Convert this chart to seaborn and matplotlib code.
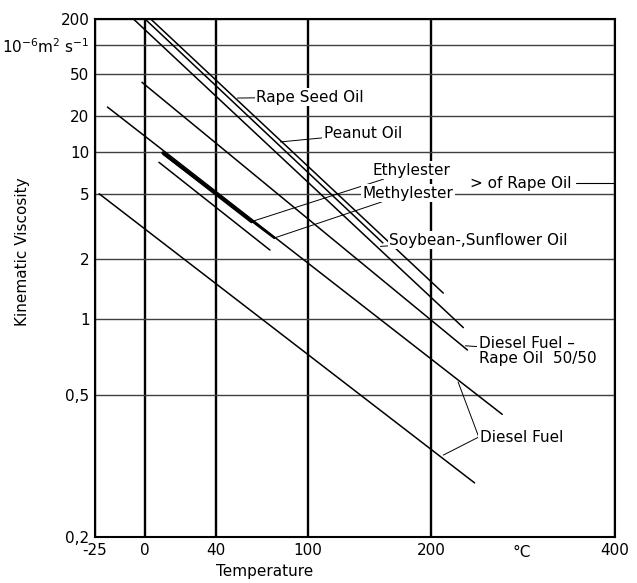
import numpy as np
import pandas as pd
import seaborn as sns
import matplotlib.pyplot as plt

# temperature in degC, viscosity in 10^-6 m2/s (end points of the straight lines)
rape_T = [3, 211]
rape_v = [200, 1.33]
peanut_T = [0, 158]
peanut_v = [200, 2.46]
soy_T = [-6, 230]
soy_v = [200, 0.92]
blend_T = [-1.6, 234]
blend_v = [41, 0.74]
diesel_hi_T = [-19, 269]
diesel_hi_v = [24, 0.43]
diesel_lo_T = [-23, 241]
diesel_lo_v = [5.0, 0.27]
ethyl_T = [9.6, 62]
ethyl_v = [9.9, 3.3]
methyl_T = [10, 77]
methyl_v = [9.7, 2.63]
ester3_T = [7.4, 74]
ester3_v = [8.4, 2.24]

x_ticks = [-25, 0, 40, 100, 200, 400]
x_labels = ['-25', '0', '40', '100', '200', '400']
y_ticks = [200, 100, 50, 20, 10, 5, 2, 1, 0.5, 0.2]
y_labels = ['200', '10$^{-6}$m$^2$ s$^{-1}$', '50', '20', '10', '5', '2', '1', '0,5', '0,2']

K = 1.37


def t_fwd(t):
    t = np.asarray(t, dtype=float)
    return np.log10(np.clip(t + 273.15, 1e-6, None))


def t_inv(u):
    return 10 ** np.asarray(u, dtype=float) - 273.15


def v_fwd(v):
    v = np.clip(np.asarray(v, dtype=float), 0.05, None)
    return np.log10(np.clip(np.log10(v) + K, 1e-6, None))


def v_inv(u):
    return 10 ** (10 ** np.asarray(u, dtype=float) - K)


sns.set_style('white')
plt.rcParams['font.family'] = ['DejaVu Sans']
plt.rcParams['text.color'] = 'k'
plt.rcParams['axes.labelcolor'] = 'k'
plt.rcParams['xtick.color'] = 'k'
plt.rcParams['ytick.color'] = 'k'

fig = plt.figure(figsize=(6.37, 5.83), dpi=100)
ax = fig.add_axes([95 / 637, 46 / 583, 520 / 637, 518 / 583])
ax.set_xscale('function', functions=(t_fwd, t_inv))
ax.set_yscale('function', functions=(v_fwd, v_inv))
ax.set_xlim(-25, 400)
ax.set_ylim(0.2, 200)

lines = [
    (rape_T, rape_v, 1.1),
    (peanut_T, peanut_v, 1.1),
    (soy_T, soy_v, 1.1),
    (blend_T, blend_v, 1.1),
    (diesel_hi_T, diesel_hi_v, 1.1),
    (diesel_lo_T, diesel_lo_v, 1.1),
    (ethyl_T, ethyl_v, 2.4),
    (methyl_T, methyl_v, 1.8),
    (ester3_T, ester3_v, 1.1),
]
for T, v, lw in lines:
    sns.lineplot(x=T, y=v, color='k', lw=lw, ax=ax, zorder=3)

ax.set_xticks(x_ticks)
ax.set_xticklabels(x_labels)
ax.set_yticks(y_ticks)
ax.set_yticklabels(y_labels)
ax.minorticks_off()
ax.tick_params(length=0, labelsize=11, pad=4, colors='k')
ax.xaxis.grid(True, color='k', lw=1.7)
ax.yaxis.grid(True, color='0.25', lw=1.0)
ax.set_axisbelow(True)
for s in ax.spines.values():
    s.set_color('k')
    s.set_linewidth(1.5)

ax.text(290, -0.015, '°C', transform=ax.get_xaxis_transform(),
        ha='center', va='top', fontsize=11)

ax.set_ylabel('Kinematic Viscosity', fontsize=11)
ax.yaxis.set_label_coords(-0.125, 0.55)
ax.set_xlabel('Temperature', fontsize=11)
ax.xaxis.set_label_coords(0.327, -0.052)

box = dict(facecolor='white', edgecolor='none', pad=1.0)
lead = dict(arrowstyle='-', color='k', lw=0.7, shrinkA=0, shrinkB=0)
fs = 11

ax.annotate('Rape Seed Oil', xy=(53, 29), xytext=(0.31, 0.849),
            textcoords='axes fraction', va='center', ha='left', fontsize=fs,
            bbox=box, arrowprops=lead, zorder=5)
ax.annotate('Peanut Oil', xy=(81, 12.1), xytext=(0.44, 0.778),
            textcoords='axes fraction', va='center', ha='left', fontsize=fs,
            bbox=box, arrowprops=lead, zorder=5)
ax.annotate('Ethylester', xy=(62, 3.3), xytext=(0.533, 0.708),
            textcoords='axes fraction', va='center', ha='left', fontsize=fs,
            bbox=box, arrowprops=lead, zorder=5)
ax.annotate('Methylester', xy=(77, 2.63), xytext=(0.515, 0.664),
            textcoords='axes fraction', va='center', ha='left', fontsize=fs,
            bbox=box, arrowprops=lead, zorder=5)
ax.text(0.722, 0.683, '> of Rape Oil', transform=ax.transAxes, va='center',
        ha='left', fontsize=fs, bbox=box, zorder=5)
ax.plot([0.925, 1.0], [0.683, 0.683], color='k', lw=0.8,
        transform=ax.transAxes, zorder=4)
ax.annotate('Soybean-,Sunflower Oil', xy=(156, 2.35), xytext=(0.566, 0.573),
            textcoords='axes fraction', va='center', ha='left', fontsize=fs,
            bbox=box, arrowprops=lead, zorder=5)
ax.annotate('Diesel Fuel –\nRape Oil  50/50', xy=(232, 0.77),
            xytext=(0.738, 0.36), textcoords='axes fraction', va='center',
            ha='left', fontsize=fs, linespacing=1.0, bbox=box,
            arrowprops=lead, zorder=5)
for tip in [(225, 0.557), (211, 0.322)]:
    ax.annotate('', xy=tip, xytext=(0.738, 0.193),
                textcoords='axes fraction', arrowprops=lead, zorder=5)
ax.text(0.74, 0.193, 'Diesel Fuel', transform=ax.transAxes, va='center',
        ha='left', fontsize=fs, bbox=box, zorder=5)

fig.savefig('out.png', dpi=100)
